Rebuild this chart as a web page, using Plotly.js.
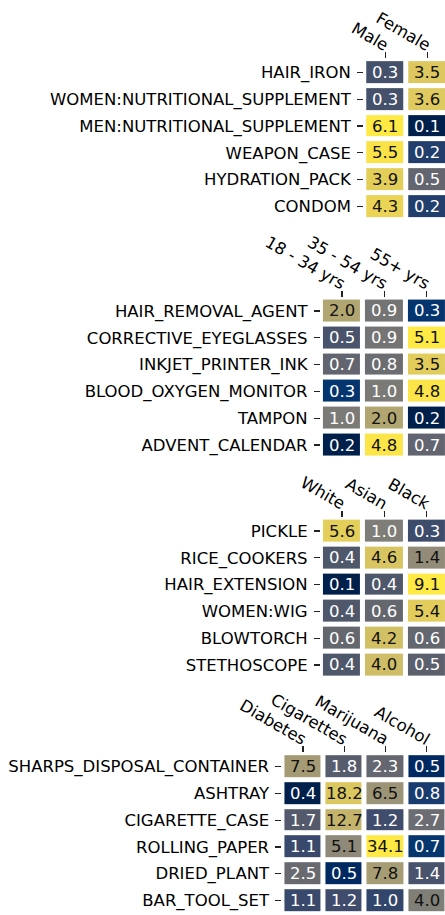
<!DOCTYPE html>
<html>
<head>
<meta charset="utf-8">
<script src="https://cdn.plot.ly/plotly-3.0.1.min.js"></script>
<style>html,body{margin:0;padding:0;background:#fff;overflow:hidden}#chart{width:445px;height:915px}</style>
</head>
<body>
<div id="chart"></div>
<script>
// ---- data ----
const genderCols = ['Male', 'Female'];
const genderRows = ['HAIR_IRON', 'WOMEN:NUTRITIONAL_SUPPLEMENT', 'MEN:NUTRITIONAL_SUPPLEMENT', 'WEAPON_CASE', 'HYDRATION_PACK', 'CONDOM'];
const genderMale = [0.3, 0.3, 6.1, 5.5, 3.9, 4.3];
const genderFemale = [3.5, 3.6, 0.1, 0.2, 0.5, 0.2];

const ageCols = ['18 - 34 yrs', '35 - 54 yrs', '55+ yrs'];
const ageRows = ['HAIR_REMOVAL_AGENT', 'CORRECTIVE_EYEGLASSES', 'INKJET_PRINTER_INK', 'BLOOD_OXYGEN_MONITOR', 'TAMPON', 'ADVENT_CALENDAR'];
const age18to34 = [2.0, 0.5, 0.7, 0.3, 1.0, 0.2];
const age35to54 = [0.9, 0.9, 0.8, 1.0, 2.0, 4.8];
const age55plus = [0.3, 5.1, 3.5, 4.8, 0.2, 0.7];

const raceCols = ['White', 'Asian', 'Black'];
const raceRows = ['PICKLE', 'RICE_COOKERS', 'HAIR_EXTENSION', 'WOMEN:WIG', 'BLOWTORCH', 'STETHOSCOPE'];
const raceWhite = [5.6, 0.4, 0.1, 0.4, 0.6, 0.4];
const raceAsian = [1.0, 4.6, 0.4, 0.6, 4.2, 4.0];
const raceBlack = [0.3, 1.4, 9.1, 5.4, 0.6, 0.5];

const healthCols = ['Diabetes', 'Cigarettes', 'Marijuana', 'Alcohol'];
const healthRows = ['SHARPS_DISPOSAL_CONTAINER', 'ASHTRAY', 'CIGARETTE_CASE', 'ROLLING_PAPER', 'DRIED_PLANT', 'BAR_TOOL_SET'];
const healthDiabetes = [7.5, 0.4, 1.7, 1.1, 2.5, 1.1];
const healthCigarettes = [1.8, 18.2, 12.7, 5.1, 0.5, 1.2];
const healthMarijuana = [2.3, 6.5, 1.2, 34.1, 7.8, 1.0];
const healthAlcohol = [0.5, 0.8, 2.7, 0.7, 1.4, 4.0];

// ---- layout helpers ----
const FONT = 'DejaVu Sans, Verdana, sans-serif';
const FS = 16.5;
const cividis = [
  [0.000000, 'rgb(0,32,76)'], [0.058824, 'rgb(0,42,102)'], [0.117647, 'rgb(0,52,110)'],
  [0.176471, 'rgb(39,63,108)'], [0.235294, 'rgb(60,74,107)'], [0.294118, 'rgb(76,85,107)'],
  [0.352941, 'rgb(91,95,109)'], [0.411765, 'rgb(104,106,112)'], [0.470588, 'rgb(117,117,117)'],
  [0.529412, 'rgb(131,129,120)'], [0.588235, 'rgb(146,140,120)'], [0.647059, 'rgb(161,152,118)'],
  [0.705882, 'rgb(176,165,114)'], [0.764706, 'rgb(192,177,109)'], [0.823529, 'rgb(209,191,102)'],
  [0.882353, 'rgb(225,204,92)'], [0.941176, 'rgb(243,219,79)'], [1.000000, 'rgb(255,233,69)']
];

const groups = [
  {cols: genderCols, rows: genderRows, series: [genderMale, genderFemale], xdom: [0.8184, 1], ydom: [0.7597, 0.9354], xmax: 1.415},
  {cols: ageCols, rows: ageRows, series: [age18to34, age35to54, age55plus], xdom: [0.7211, 1], ydom: [0.4990, 0.6748], xmax: 2.437},
  {cols: raceCols, rows: raceRows, series: [raceWhite, raceAsian, raceBlack], xdom: [0.7211, 1], ydom: [0.2586, 0.4343], xmax: 2.437},
  {cols: healthCols, rows: healthRows, series: [healthDiabetes, healthCigarettes, healthMarijuana, healthAlcohol], xdom: [0.6346, 1], ydom: [0.0012, 0.1769], xmax: 3.447}
];

const data = [];
const annotations = [];
const layout = {
  width: 445, height: 915,
  margin: {l: 0, r: 0, t: 0, b: 0},
  paper_bgcolor: '#fff', plot_bgcolor: '#fff',
  showlegend: false,
  font: {family: FONT, size: FS, color: '#000'},
  annotations: annotations
};

groups.forEach((g, gi) => {
  const sfx = gi === 0 ? '' : String(gi + 1);
  const values = g.rows.map((r, ri) => g.series.map(s => s[ri]));
  const flat = values.flat();
  const vmin = Math.min(...flat), vmax = Math.max(...flat);
  const lmin = Math.log(vmin), lmax = Math.log(vmax);
  const z = values.map(row => row.map(v => Math.log(v)));
  data.push({
    type: 'heatmap',
    x: g.cols, y: g.rows, z: z,
    zmin: lmin, zmax: lmax,
    colorscale: cividis,
    showscale: false,
    xgap: 5, ygap: 5,
    hoverinfo: 'skip',
    xaxis: 'x' + sfx, yaxis: 'y' + sfx
  });
  values.forEach((row, ri) => row.forEach((v, ci) => {
    const frac = (Math.log(v) - lmin) / (lmax - lmin);
    annotations.push({
      x: g.cols[ci], y: g.rows[ri],
      xref: 'x' + sfx, yref: 'y' + sfx,
      text: v.toFixed(1), showarrow: false,
      font: {family: FONT, size: 16.5, color: frac > 0.515 ? '#111' : '#fff'}
    });
  }));
  layout['xaxis' + sfx] = {
    domain: g.xdom, anchor: 'y' + sfx, side: 'top',
    type: 'category', range: [-0.5, g.xmax],
    showgrid: false, zeroline: false, showline: false,
    ticks: 'outside', ticklen: 6, tickwidth: 1.2, tickcolor: '#222',
    tickangle: 30, tickfont: {family: FONT, size: FS, color: '#000'},
    ticklabelstandoff: -7, ticklabelshift: 3,
    fixedrange: true
  };
  layout['yaxis' + sfx] = {
    domain: g.ydom, anchor: 'x' + sfx,
    type: 'category', range: [g.rows.length - 0.5, -0.5],
    showgrid: false, zeroline: false, showline: false,
    ticks: 'outside', ticklen: 6, tickwidth: 1.2, tickcolor: '#222',
    tickfont: {family: FONT, size: FS, color: '#000'},
    ticklabelstandoff: 3,
    fixedrange: true
  };
});

Plotly.newPlot('chart', data, layout, {staticPlot: true, displayModeBar: false});
</script>
</body>
</html>
